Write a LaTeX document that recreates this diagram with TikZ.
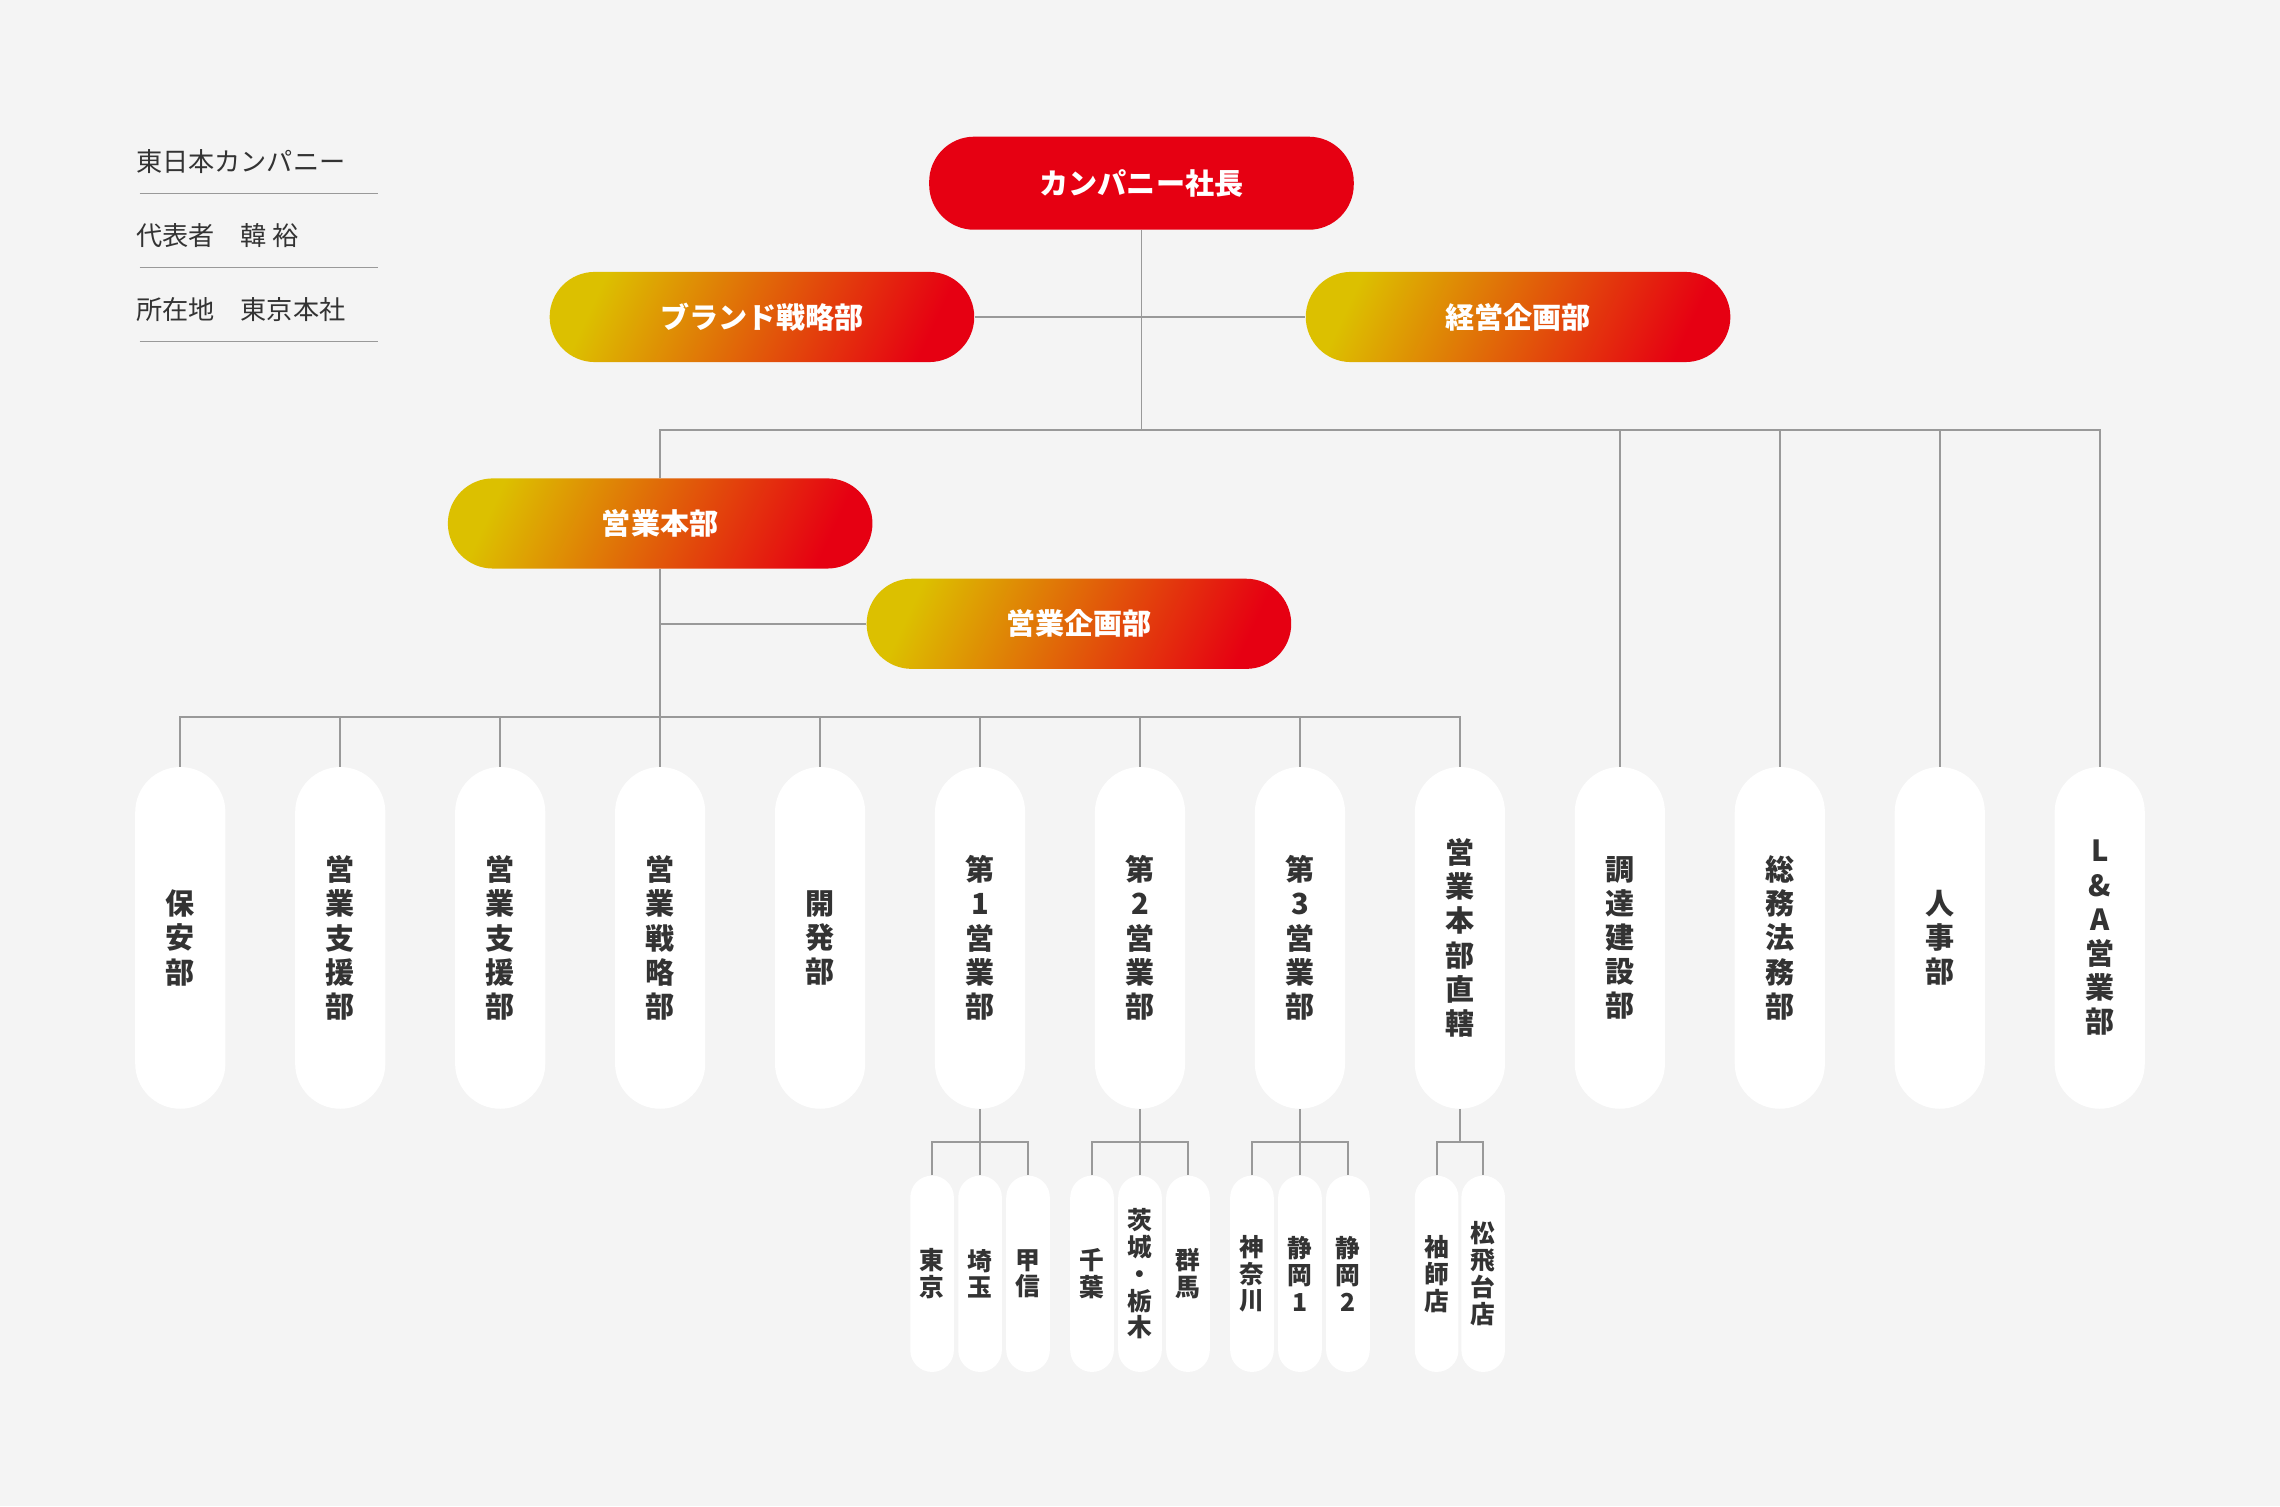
\documentclass[tikz,border=0pt]{standalone}
\usepackage{fontspec}
\setmainfont{Noto Sans CJK JP}
\usepackage{tikz}
\usetikzlibrary{positioning, calc}
\definecolor{bgcol}{HTML}{F4F4F4}
\definecolor{linecol}{HTML}{999999}
\definecolor{topred}{HTML}{E60012}
\definecolor{gradyel}{HTML}{DCC000}
\definecolor{gradorg}{HTML}{E8601A}
\definecolor{txtcol}{HTML}{333333}
\tikzstyle{conn} = [draw=linecol, line width=1.3pt]

\begin{document}
\begin{tikzpicture}[x=1pt, y=-1pt,
    topbox/.style={rectangle, rounded corners=31pt, fill=topred, minimum width=292pt, minimum height=64pt, text=white, font=\fontsize{20}{22}\selectfont\bfseries},
    gradbox/.style={rectangle, rounded corners=31pt, minimum width=292pt, minimum height=62pt, text=white, font=\fontsize{20}{22}\selectfont\bfseries,
        left color=gradyel, middle color=gradorg, right color=topred, shading angle=65},
    deptbox/.style={rectangle, rounded corners=31pt, fill=white, minimum width=62pt, minimum height=235pt, align=center, text=txtcol, font=\fontsize{20}{23.5}\selectfont\bfseries},
    subbox/.style={rectangle, rounded corners=15pt, fill=white, minimum width=30pt, minimum height=135pt, align=center, text=txtcol, font=\fontsize{17}{18.5}\selectfont\bfseries},
    infotext/.style={anchor=west, text=txtcol, font=\fontsize{18}{20}\selectfont},
]
\fill[bgcol] (0,0) rectangle (1568,1036);
\useasboundingbox (0,0) rectangle (1568,1036);

% Company info
\node[infotext] (info1) at (90,111) {東日本カンパニー};
\node[infotext] (info2) at (90,162) {代表者\quad 韓 裕};
\node[infotext] (info3) at (90,213) {所在地\quad 東京本社};
\foreach \y in {133,184,235}
  \draw[linecol, line width=1pt] (96,\y) -- (260,\y);

% Top level
\node[topbox] (ceo) at (785,126) {カンパニー社長};
\node[gradbox] (brand) at (524,218) {ブランド戦略部};
\node[gradbox] (plan) at (1044,218) {経営企画部};
\node[gradbox] (salesHQ) at (454,360) {営業本部};
\node[gradbox] (salesPlan) at (742,429) {営業企画部};

% Department pills
\foreach \x/\t/\n in {124/{保\\安\\部}/d1, 234/{営\\業\\支\\援\\部}/d2, 344/{営\\業\\支\\援\\部}/d3,
    454/{営\\業\\戦\\略\\部}/d4, 564/{開\\発\\部}/d5, 674/{第\\1\\営\\業\\部}/d6,
    784/{第\\2\\営\\業\\部}/d7, 894/{第\\3\\営\\業\\部}/d8, 1004/{営\\業\\本\\部\\直\\轄}/d9,
    1114/{調\\達\\建\\設\\部}/d10, 1224/{総\\務\\法\\務\\部}/d11, 1334/{人\\事\\部}/d12,
    1444/{L\\\&\\A\\営\\業\\部}/d13}
  \node[deptbox] (\n) at (\x,645) {\t};

% Branch pills
\foreach \x/\t/\n in {641/{東\\京}/s1, 674/{埼\\玉}/s2, 707/{甲\\信}/s3,
    751/{千\\葉}/s4, 784/{茨\\城\\・\\栃\\木}/s5, 817/{群\\馬}/s6,
    861/{神\\奈\\川}/s7, 894/{静\\岡\\1}/s8, 927/{静\\岡\\2}/s9,
    988/{袖\\師\\店}/s10, 1020/{松\\飛\\台\\店}/s11}
  \node[subbox] (\n) at (\x,876) {\t};

% Junctions
\coordinate (jTop) at (785,296);
\coordinate (jSales) at (454,493);

% Connectors from top
\draw[conn] (ceo.south) -- (jTop);
\draw[conn] (brand.east) -- (plan.west);
\draw[conn] (salesHQ.north) |- (jTop);
\foreach \n in {d10,d11,d12,d13}
  \draw[conn] (\n.north) |- (jTop);

% Sales HQ tree
\draw[conn] (salesHQ.south) -- (jSales);
\draw[conn] (salesHQ.south |- salesPlan.west) -- (salesPlan.west);
\foreach \n in {d1,d2,d3,d4,d5,d6,d7,d8,d9}
  \draw[conn] (\n.north) |- (jSales);

% Branch trees
\foreach \p/\a/\b/\c in {d6/s1/s2/s3, d7/s4/s5/s6, d8/s7/s8/s9}{
  \draw[conn] (\p.south) -- ($(\p.south)+(0,23)$);
  \draw[conn] (\a.north) -- ++(0,-23) -| (\c.north);
  \draw[conn] (\b.north) -- ++(0,-23);
}
\draw[conn] (d9.south) -- ($(d9.south)+(0,23)$);
\draw[conn] (s10.north) -- ++(0,-23) -| (s11.north);

\end{tikzpicture}
\end{document}
